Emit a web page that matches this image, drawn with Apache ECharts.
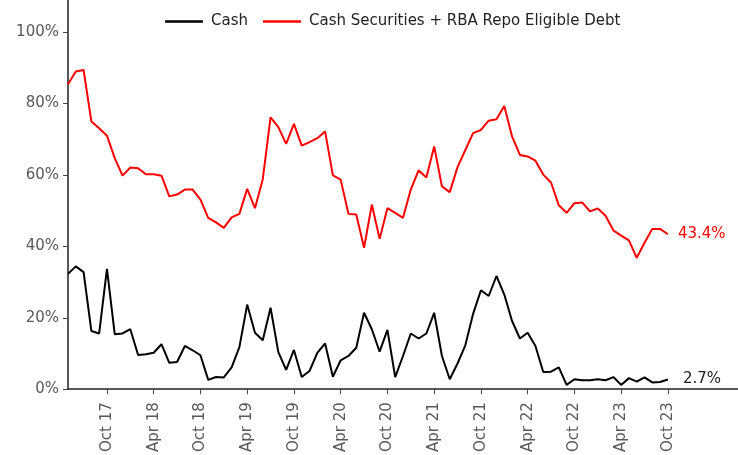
<!DOCTYPE html>
<html>
<head>
<meta charset="utf-8">
<script src="https://cdn.jsdelivr.net/npm/echarts@6/dist/echarts.min.js"></script>
<style>
  html, body { margin: 0; padding: 0; background: #fff; }
  #chart { width: 738px; height: 455px; }
</style>
</head>
<body>
<div id="chart"></div>
<script>
// Monthly, May 2017 to Oct 2023 (% of total)
const cash = [
  32.3, 34.4, 32.8, 16.3, 15.6, 33.7, 15.4, 15.6,
  16.8, 9.6, 9.8, 10.2, 12.6, 7.4, 7.6, 12.1, 10.9, 9.5, 2.6, 3.4,
  3.3, 6.1, 11.8, 23.7, 15.8, 13.7, 22.8, 10.4, 5.4, 11.0, 3.4, 5.1,
  10.2, 12.8, 3.5, 8.1, 9.3, 11.6, 21.4, 16.8, 10.5, 16.6, 3.4, 9.3,
  15.6, 14.2, 15.6, 21.4, 9.3, 2.8, 7.2, 12.3, 21.1, 27.7, 26.1, 31.7,
  26.5, 19.1, 14.2, 15.8, 12.1, 4.8, 4.9, 6.1, 1.2, 2.8, 2.5, 2.5,
  2.8, 2.5, 3.4, 1.2, 3.1, 2.1, 3.3, 1.9, 2.0, 2.7
];
const cashSecRepo = [
  85.4, 89.0, 89.4, 75.0, 73.1, 71.0, 64.7, 59.8,
  62.1, 61.9, 60.2, 60.2, 59.8, 54.0, 54.5, 55.9, 55.9, 53.1, 48.0, 46.7,
  45.2, 48.1, 49.1, 56.1, 50.7, 58.8, 76.1, 73.4, 68.7, 74.3, 68.2, 69.2,
  70.3, 72.2, 59.9, 58.7, 49.1, 48.9, 39.6, 51.7, 42.1, 50.7, 49.4, 48.0,
  55.9, 61.3, 59.3, 68.0, 56.8, 55.2, 62.2, 67.0, 71.7, 72.6, 75.2, 75.6,
  79.3, 70.8, 65.6, 65.2, 64.0, 60.1, 57.9, 51.5, 49.4, 52.1, 52.3, 49.8,
  50.6, 48.6, 44.5, 43.0, 41.7, 36.8, 41.0, 44.9, 44.9, 43.4
];
const yTicks = [0, 20, 40, 60, 80, 100];

// month categories: May 17 .. Jul 24 (axis runs past the last data point)
const monthNames = ["Jan", "Feb", "Mar", "Apr", "May", "Jun", "Jul", "Aug", "Sep", "Oct", "Nov", "Dec"];
const months = [];
for (let i = 0; i < 87; i++) {
  const m = (4 + i) % 12;
  const y = 17 + Math.floor((4 + i) / 12);
  months.push(monthNames[m] + " " + y);
}
// Oct and Apr only, up to the last data month
const showTick = (idx) => idx % 6 === 5 && idx < cash.length;

const FONT = "DejaVu Sans";

const chart = echarts.init(document.getElementById("chart"));
chart.setOption({
  animation: false,
  textStyle: { fontFamily: FONT },
  legend: {
    top: 9,
    left: 160,
    icon: "rect",
    itemWidth: 38,
    itemHeight: 2.5,
    itemGap: 15,
    textStyle: { fontFamily: FONT, fontSize: 15, color: "#222", padding: [0, 0, 0, 3] },
    data: ["Cash", "Cash Securities + RBA Repo Eligible Debt"]
  },
  grid: { left: 68, top: 0, width: 675, bottom: 65 },
  xAxis: {
    type: "category",
    data: months,
    boundaryGap: false,
    axisLine: { lineStyle: { color: "#222", width: 1.5 } },
    axisTick: { interval: showTick, length: 5, lineStyle: { color: "#444" } },
    axisLabel: {
      interval: showTick,
      rotate: 90,
      margin: 13,
      fontSize: 15,
      color: "#595959",
      fontFamily: FONT
    },
    splitLine: { show: false }
  },
  yAxis: {
    type: "value",
    min: 0,
    max: 109,
    axisLine: { show: true, lineStyle: { color: "#222", width: 1.5 } },
    axisTick: { show: true, length: 5, customValues: yTicks, lineStyle: { color: "#444" } },
    axisLabel: {
      customValues: yTicks,
      formatter: "{value}%",
      margin: 9,
      fontSize: 15,
      color: "#595959",
      fontFamily: FONT
    },
    splitLine: { show: false }
  },
  series: [
    {
      name: "Cash",
      type: "line",
      data: cash,
      symbol: "none",
      lineStyle: { color: "#000", width: 2 },
      itemStyle: { color: "#000" },
      endLabel: {
        show: true,
        distance: 15,
        formatter: (p) => p.value.toFixed(1) + "%",
        fontSize: 15,
        color: "#222",
        fontFamily: FONT
      }
    },
    {
      name: "Cash Securities + RBA Repo Eligible Debt",
      type: "line",
      data: cashSecRepo,
      symbol: "none",
      lineStyle: { color: "#ff0000", width: 2 },
      itemStyle: { color: "#ff0000" },
      endLabel: {
        show: true,
        distance: 10,
        formatter: (p) => p.value.toFixed(1) + "%",
        fontSize: 15,
        color: "#ff0000",
        fontFamily: FONT
      }
    }
  ]
});
</script>
</body>
</html>
